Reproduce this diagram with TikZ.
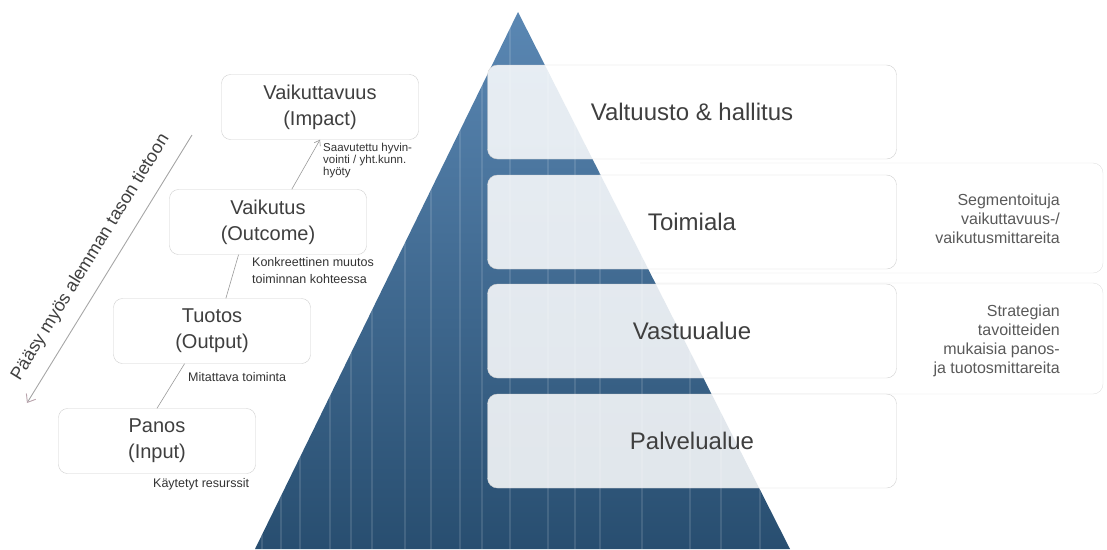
\documentclass[tikz,border=0pt]{standalone}
\usepackage{fontspec}
\setmainfont{Liberation Sans}
\usetikzlibrary{arrows.meta}
\definecolor{pyrtop}{HTML}{5A87B3}
\definecolor{pyrbot}{HTML}{284E70}
\definecolor{boxline}{HTML}{CFCFCF}
\definecolor{txtgray}{HTML}{3F3F3F}
\definecolor{arrowpink}{HTML}{B9A3AC}

\begin{document}
\begin{tikzpicture}[x=1pt, y=-1pt,
		levelbox/.style={draw=boxline, fill=white, rounded corners=9pt, minimum width=197pt, minimum height=65pt, inner sep=0pt, align=center, text=txtgray, font=\fontsize{20}{26}\selectfont},
		orgbox/.style={draw=boxline, fill=white, fill opacity=0.86, text opacity=1, rounded corners=10pt, minimum width=409pt, minimum height=94pt, text=txtgray, font=\fontsize{24}{28}\selectfont},
		note/.style={align=left, text=black!80, inner sep=0pt, font=\fontsize{12.5}{17}\selectfont},
		sidenote/.style={align=right, text=black!65, inner sep=0pt, font=\fontsize{16}{19}\selectfont},
		link/.style={draw=black!40, line width=0.6pt}]
		\useasboundingbox (0,0) rectangle (1107,549);
		% faint frames on the right
		\draw[black!12, rounded corners=10pt] (640,163) -- (1103,163) -- (1103,273) -- (640,273);
		\draw[black!12, rounded corners=10pt] (640,283) -- (1103,283) -- (1103,394) -- (640,394);
		% pyramid
		\shade[top color=pyrtop, bottom color=pyrbot] (518,12) -- (790,549) -- (255,549) -- cycle;
		\begin{scope}
			\clip (518,12) -- (790,549) -- (255,549) -- cycle;
			\foreach \x in {262,281,300,330,351,372,405,431,460,482,510,548,575,600,642,690,721,760}
				\draw[white, opacity=0.12, line width=1.2pt] (\x,0) -- (\x,549);
		\end{scope}
		\node[orgbox] (council) at (692,112) {Valtuusto \& hallitus};
		\node[orgbox] (sector) at (692,222) {Toimiala};
		\node[orgbox] (unit) at (692,331) {Vastuualue};
		\node[orgbox] (service) at (692,441) {Palvelualue};
		\node[sidenote, anchor=east] (sectornote) at (1060,219) {Segmentoituja\\vaikuttavuus-/\\vaikutusmittareita};
		\node[sidenote, anchor=east] (unitnote) at (1060,341) {Strategian\\tavoitteiden\\mukaisia panos-\\ja tuotosmittareita};
		% levels on the left
		\node[levelbox] (impact) at (320,107) {Vaikuttavuus\\(Impact)};
		\node[levelbox] (outcome) at (268,222) {Vaikutus\\(Outcome)};
		\node[levelbox] (output) at (212,331) {Tuotos\\(Output)};
		\node[levelbox] (input) at (157,441) {Panos\\(Input)};
		\draw[link, -{Straight Barb[length=5pt,width=7pt]}] (outcome.54) -- (impact.south);
		\draw[link] (output.67) -- (outcome.-132);
		\draw[link] (input.north) -- (output.-130);
		\node[note, anchor=north west, font=\fontsize{11.5}{12}\selectfont] (impactnote) at (323,143) {Saavutettu hyvin-\\vointi / yht.kunn.\\hyöty};
		\node[note, anchor=north west] (outcomenote) at (252,257) {Konkreettinen muutos\\toiminnan kohteessa};
		\node[note, anchor=west] (outputnote) at (188,377) {Mitattava toiminta};
		\node[note, anchor=west] (inputnote) at (153,484) {Käytetyt resurssit};
		% access to lower levels
		\coordinate (acctop) at (192,135);
		\coordinate (accbottom) at (27,403);
		\draw[black!35, line width=0.9pt, {Straight Barb[length=7pt,width=11pt,color=arrowpink]}-] (accbottom) -- (acctop)
			node[midway, sloped, above=10pt, text=txtgray, font=\fontsize{18}{20}\selectfont] {Pääsy myös alemman tason tietoon};
	\end{tikzpicture}
\end{document}
